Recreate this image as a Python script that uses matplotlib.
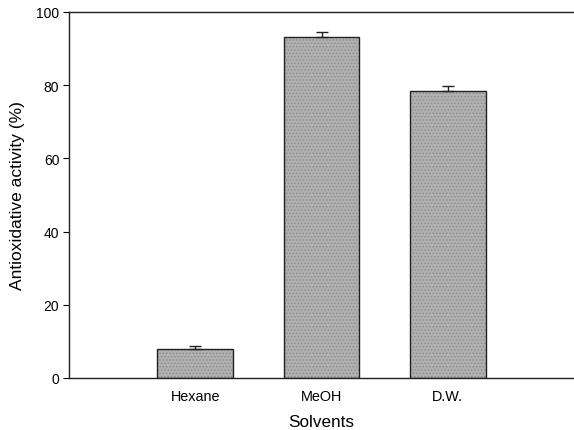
import matplotlib
matplotlib.use("Agg")
import matplotlib.pyplot as plt

plt.rcParams['font.family'] = ['Liberation Sans', 'DejaVu Sans']
plt.rcParams['hatch.linewidth'] = 0.6

categories = ["Hexane", "MeOH", "D.W."]
values = [7.9, 93.1, 78.5]
errors = [0.9, 1.5, 1.4]
yticks = [0, 20, 40, 60, 80, 100]

fig = plt.figure(figsize=(5.74, 4.31), dpi=100)
ax = fig.add_axes([69/574, 52/431, 505/574, 366/431])

pos = [1, 2, 3]
# textured fill layer
ax.bar(pos, values, width=0.6, color='#b0b0b0', edgecolor='#8c8c8c', linewidth=0,
       hatch='.....')
# outline + error bars
ax.bar(pos, values, width=0.6, fill=False, edgecolor='#222222', linewidth=1.0,
       yerr=[[0]*len(errors), errors], capsize=4,
       error_kw=dict(ecolor='#222222', elinewidth=1.0, capthick=1.0))

ax.set_xlim(0, 4)
ax.set_ylim(0, 100)
ax.set_xticks(pos)
ax.set_xticklabels(categories, fontsize=10.4)
ax.set_yticks(yticks)
ax.set_yticklabels([str(t) for t in yticks], fontsize=10)
ax.tick_params(axis='x', length=0, pad=8)
ax.tick_params(axis='y', direction='out', length=4, width=0.8, pad=3)

for s in ['left', 'top', 'bottom']:
    ax.spines[s].set_linewidth(1.0)
    ax.spines[s].set_color('#222222')
ax.spines['right'].set_visible(False)

ax.set_xlabel("Solvents", fontsize=12.3, labelpad=8)
ax.set_ylabel("Antioxidative activity (%)", fontsize=12.5, labelpad=8)

fig.savefig("out.png", dpi=100)
